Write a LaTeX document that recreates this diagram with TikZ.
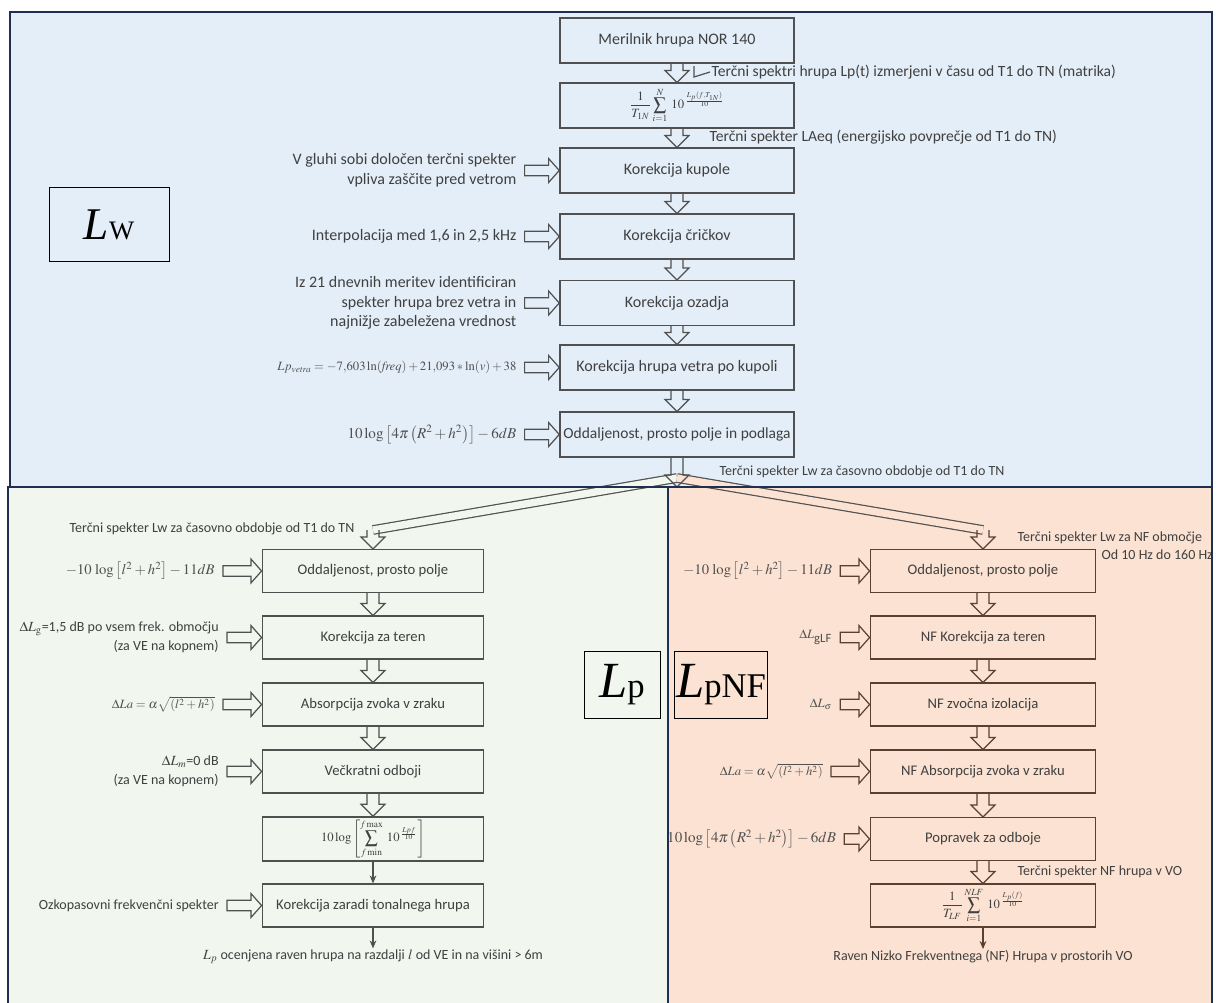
\documentclass[tikz,border=0pt]{standalone}
\usepackage{mathptmx}
\usepackage[no-math]{fontspec}
\setmainfont{Carlito}
\newfontfamily\timesfont{Liberation Serif}
\usetikzlibrary{arrows.meta,calc,positioning}

\definecolor{navy}{HTML}{1F2F4F}
\definecolor{bluebg}{HTML}{E4EEF8}
\definecolor{greenbg}{HTML}{F1F6EE}
\definecolor{peachbg}{HTML}{FBE2D2}
\definecolor{boxgray}{HTML}{505050}
\definecolor{boxbrown}{HTML}{5A4030}
\definecolor{txt}{HTML}{404040}
\definecolor{mathgray}{HTML}{505050}

\tikzset{
  panel/.style={draw=navy,line width=1.8pt},
  stepbox/.style={draw=boxgray,line width=1.1pt,minimum width=175.5pt,
                  minimum height=33.5pt,inner sep=2pt,text=txt,
                  font=\fontsize{12}{14}\selectfont},
  lowbox/.style={stepbox,minimum width=166pt,minimum height=32pt,
                 font=\fontsize{11}{13}\selectfont},
  nfbox/.style={lowbox,draw=boxbrown,minimum width=169pt},
  side/.style={text=txt,align=right,inner sep=1pt,
               font=\fontsize{10.5}{14.5}\selectfont},
  upside/.style={side,font=\fontsize{12}{15}\selectfont},
  note/.style={text=txt,inner sep=1pt,font=\fontsize{10.5}{13}\selectfont},
  upnote/.style={note,font=\fontsize{11.7}{14}\selectfont},
  formula/.style={text=mathgray,inner sep=1pt,font=\fontsize{9.5}{11}\selectfont},
  bigformula/.style={formula,font=\fontsize{11.3}{13}\selectfont},
  hollow/.style={draw=boxgray,line width=0.9pt,line join=miter},
  branch/.style={draw=boxgray,line width=0.9pt,double distance=5.5pt},
  plain/.style={draw=boxgray,line width=1pt,-{Stealth[length=6pt,width=5pt]}},
  bigsym/.style={draw=black,line width=0.7pt,inner sep=0pt,font=\timesfont}
}

% hollow block arrows, node to node
\newcommand{\varrow}[3][boxgray]{%
  \draw[hollow,draw=#1] let \p1=(#2), \p2=(#3) in
    (\x2-4.5pt,\y1) -- (\x2-4.5pt,\y2+9pt) -- (\x2-9pt,\y2+9pt) -- (\x2,\y2)
    -- (\x2+9pt,\y2+9pt) -- (\x2+4.5pt,\y2+9pt) -- (\x2+4.5pt,\y1);}
\newcommand{\harrow}[3][boxgray]{%
  \draw[hollow,draw=#1] let \p1=(#2.east), \p2=(#3.west) in
    (\x1+5pt,\y2+4pt) -- (\x2-8pt,\y2+4pt) -- (\x2-8pt,\y2+9pt) -- (\x2,\y2)
    -- (\x2-8pt,\y2-9pt) -- (\x2-8pt,\y2-4pt) -- (\x1+5pt,\y2-4pt) -- cycle;}

\begin{document}
\begin{tikzpicture}[x=0.75pt,y=-0.75pt]
  \useasboundingbox (0,0) rectangle (1222,1003);
  % panels
  \fill[bluebg] (10,12) rectangle (1212,487);
  \fill[greenbg] (8,487) rectangle (668,1010);
  \fill[peachbg] (668,487) rectangle (1212,1010);

  % Lw chain
  \node[stepbox] (nor) at (677,40.5) {Merilnik hrupa NOR 140};
  \node[stepbox] (sum) at (677,105.5) {\fontsize{9.5}{11}\selectfont
    $\displaystyle\frac{1}{T_{1N}}\sum_{i=1}^{N}\;10^{\,\frac{L_p(f,T_{1N})}{10}}$};
  \node[stepbox] (kup) at (677,170.5) {Korekcija kupole};
  \node[stepbox] (cri) at (677,236.5) {Korekcija čričkov};
  \node[stepbox] (oza) at (677,303) {Korekcija ozadja};
  \node[stepbox] (vet) at (677,367.5) {Korekcija hrupa vetra po kupoli};
  \node[stepbox,inner sep=0.5pt,font=\fontsize{11.6}{14}\selectfont] (odd) at (677,434.5)
    {Oddaljenost, prosto polje in podlaga};

  \node[upnote,anchor=west] (spektri) at (710,72)
    {Terčni spektri hrupa Lp(t) izmerjeni v času od T1 do TN (matrika)};
  \node[upnote,anchor=west] (laeq) at (708,137)
    {Terčni spekter LAeq (energijsko povprečje od T1 do TN)};
  \node[note,anchor=west] (lwt) at (718,472)
    {Terčni spekter Lw za časovno obdobje od T1 do TN};

  \node[upside,left=31pt of kup] (kupl)
    {V gluhi sobi določen terčni spekter\\vpliva zaščite pred vetrom};
  \node[upside,left=31pt of cri] (cril) {Interpolacija med 1,6 in 2,5 kHz};
  \node[upside,left=31pt of oza,font=\fontsize{12}{14.5}\selectfont] (ozal)
    {Iz 21 dnevnih meritev identificiran\\spekter hrupa brez vetra in\\najnižje zabeležena vrednost};
  \node[formula,left=31pt of vet] (vetl)
    {$Lp_{\mathit{vetra}}=-7{,}603\ln(\mathit{freq})+21{,}093*\ln(v)+38$};
  \node[bigformula,left=31pt of odd] (oddl)
    {$10\log\left[4\pi\left(R^2+h^2\right)\right]-6dB$};

  \node[bigsym,minimum width=90pt,minimum height=56pt] (lw) at (109,224.5)
    {{\fontsize{34}{34}\selectfont\textit{L}}{\fontsize{20}{20}\selectfont W}};

  \varrow{nor.south}{sum.north}
  \draw[hollow] (spektri.west) -- ++(-16,5) -- ++(0,-11);
  \varrow{sum.south}{kup.north}
  \varrow{kup.south}{cri.north}
  \varrow{cri.south}{oza.north}
  \varrow{oza.south}{vet.north}
  \varrow{vet.south}{odd.north}
  \harrow{kupl}{kup}
  \harrow{cril}{cri}
  \harrow{ozal}{oza}
  \harrow{vetl}{vet}
  \harrow{oddl}{odd}

  % split
  \coordinate (split) at (677,487);
  \coordinate (fork) at (677,478);
  \coordinate (ltop) at (373,530);
  \coordinate (rtop) at (983,530);
  \draw[branch,double=greenbg] (fork) -- (ltop);
  \draw[branch,double=peachbg] (fork) -- (rtop);
  \varrow{odd.south}{split}

  % Lp chain
  \node[lowbox] (od1) at (373,571) {Oddaljenost, prosto polje};
  \node[lowbox] (ter1) at (373,637.5) {Korekcija za teren};
  \node[lowbox] (abs1) at (373,704.5) {Absorpcija zvoka v zraku};
  \node[lowbox] (odb1) at (373,771.5) {Večkratni odboji};
  \node[lowbox] (sum1) at (373,839) {\fontsize{9.5}{11}\selectfont
    $10\log\left[\displaystyle\sum_{f\,\mathrm{min}}^{f\,\mathrm{max}}\;10^{\,\frac{Lpf}{10}}\right]$};
  \node[lowbox] (ton1) at (373,905.5) {Korekcija zaradi tonalnega hrupa};
  \node[note] (lpout) at (373,957)
    {$L_p$ ocenjena raven hrupa na razdalji $l$ od VE in na višini > 6m};

  \node[note,anchor=east] (lwl) at (356,529)
    {Terčni spekter Lw za časovno obdobje od T1 do TN};
  \node[formula,left=34pt of od1,font=\fontsize{11}{13}\selectfont] (od1l)
    {$-10\,\log\left[l^2+h^2\right]-11dB$};
  \node[side,left=31pt of ter1] (ter1l)
    {$\Delta L_{\mathrm{g}}$=1,5 dB po vsem frek. območju\\(za VE na kopnem)};
  \node[formula,left=34pt of abs1] (abs1l) {$\Delta La=\alpha\sqrt{\left(l^2+h^2\right)}$};
  \node[side,left=31pt of odb1] (odb1l) {$\Delta L_m$=0 dB\\(za VE na kopnem)};
  \node[side,left=31pt of ton1] (ton1l) {Ozkopasovni frekvenčni spekter};

  \varrow{ltop}{od1.north}
  \varrow{od1.south}{ter1.north}
  \varrow{ter1.south}{abs1.north}
  \varrow{abs1.south}{odb1.north}
  \varrow{odb1.south}{sum1.north}
  \draw[plain] (sum1) -- (ton1);
  \draw[plain] (ton1) -- (lpout);
  \harrow{od1l}{od1}
  \harrow{ter1l}{ter1}
  \harrow{abs1l}{abs1}
  \harrow{odb1l}{odb1}
  \harrow{ton1l}{ton1}

  % LpNF chain
  \node[nfbox] (od2) at (983,571) {Oddaljenost, prosto polje};
  \node[nfbox] (ter2) at (983,637.5) {NF Korekcija za teren};
  \node[nfbox] (izo2) at (983,704.5) {NF zvočna izolacija};
  \node[nfbox] (abs2) at (983,771.5) {NF Absorpcija zvoka v zraku};
  \node[nfbox] (pop2) at (983,839) {Popravek za odboje};
  \node[nfbox] (sum2) at (983,905.5) {\fontsize{9.5}{11}\selectfont
    $\displaystyle\frac{1}{T_{LF}}\sum_{i=1}^{NLF}\;10^{\,\frac{L_p(f)}{10}}$};
  \node[note] (nfout) at (983,957)
    {Raven Nizko Frekventnega (NF) Hrupa v prostorih VO};

  \node[note,anchor=west] (nft) at (1016,538) {Terčni spekter Lw za NF območje};
  \node[note,anchor=west] (nfhz) at (1100,555) {Od 10 Hz do 160 Hz};
  \node[note,anchor=west] (vot) at (1016,872) {Terčni spekter NF hrupa v VO};
  \node[formula,left=27pt of od2,font=\fontsize{11}{13}\selectfont] (od2l)
    {$-10\,\log\left[l^2+h^2\right]-11dB$};
  \node[formula,left=27pt of ter2] (ter2l) {$\Delta L_{\textrm{gLF}}$};
  \node[formula,left=27pt of izo2] (izo2l) {$\Delta L_\sigma$};
  \node[formula,left=34pt of abs2] (abs2l) {$\Delta La=\alpha\sqrt{\left(l^2+h^2\right)}$};
  \node[bigformula,left=24pt of pop2] (pop2l) {$10\log\left[4\pi\left(R^2+h^2\right)\right]-6dB$};

  \varrow[boxbrown]{rtop}{od2.north}
  \varrow[boxbrown]{od2.south}{ter2.north}
  \varrow[boxbrown]{ter2.south}{izo2.north}
  \varrow[boxbrown]{izo2.south}{abs2.north}
  \varrow[boxbrown]{abs2.south}{pop2.north}
  \varrow[boxbrown]{pop2.south}{sum2.north}
  \draw[plain,draw=boxbrown] (sum2) -- (nfout);
  \harrow[boxbrown]{od2l}{od2}
  \harrow[boxbrown]{ter2l}{ter2}
  \harrow[boxbrown]{izo2l}{izo2}
  \harrow[boxbrown]{abs2l}{abs2}
  \harrow[boxbrown]{pop2l}{pop2}

  % Lp / LpNF labels
  \node[bigsym,fill=greenbg,minimum width=57pt,minimum height=50pt] (lp) at (622,685)
    {{\fontsize{38}{38}\selectfont\textit{L}}{\fontsize{26}{26}\selectfont p}};
  \node[bigsym,fill=peachbg,minimum width=70pt,minimum height=50pt] (lpnf) at (721,685)
    {{\fontsize{38}{38}\selectfont\textit{L}}{\fontsize{26}{26}\selectfont pNF}};

  % panel borders on top
  \draw[panel] (10,12) rectangle (1212,487);
  \draw[panel] (8,487) rectangle (668,1010);
  \draw[panel] (668,487) rectangle (1212,1010);
\end{tikzpicture}
\end{document}
